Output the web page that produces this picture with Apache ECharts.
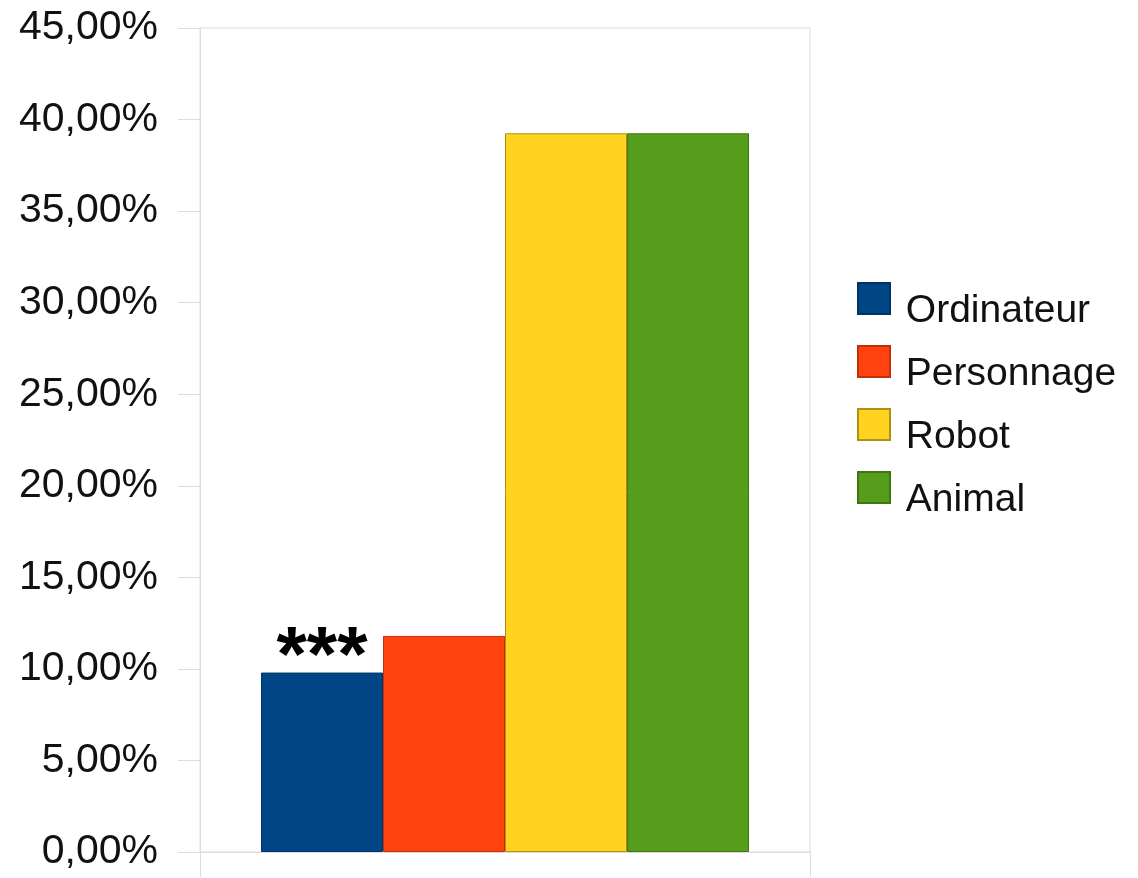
<!DOCTYPE html>
<html><head><meta charset="utf-8">
<script src="https://cdn.jsdelivr.net/npm/echarts@6/dist/echarts.min.js"></script>
<style>html,body{margin:0;padding:0;background:#fff}#c{width:1138px;height:878px}</style>
</head><body><div id="c"></div>
<script>
const categories = [''];
const seriesNames = ['Ordinateur', 'Personnage', 'Robot', 'Animal'];
const seriesValues = [[9.8], [11.8], [39.25], [39.25]];
const seriesColors = ['#004586', '#ff420e', '#ffd320', '#579d1c'];
const borderColors = ['#003366', '#c03008', '#b09010', '#3f7410'];
const annotations = ['***', '', '', ''];
const yTicks = {min: 0, max: 45, interval: 5};

const chart = echarts.init(document.getElementById('c'), null, {renderer: 'canvas'});
const series = seriesNames.map((n, i) => ({
  name: n,
  type: 'bar',
  data: seriesValues[i],
  barGap: '0%',
  barCategoryGap: '20%',
  itemStyle: {color: seriesColors[i], borderColor: borderColors[i], borderWidth: 1},
  label: {
    show: annotations[i] !== '',
    position: 'top',
    formatter: annotations[i],
    color: '#000',
    fontFamily: 'Liberation Sans',
    fontWeight: 'bold',
    fontSize: 78,
    distance: -26
  },
  emphasis: {disabled: true}
}));
chart.setOption({
  animation: false,
  backgroundColor: '#fff',
  grid: {left: 200, right: 328, top: 28, bottom: 26, show: true, borderColor: '#dcdcdc', borderWidth: 1},
  xAxis: {
    type: 'category', data: categories,
    axisLine: {show: true, lineStyle: {color: '#dcdcdc'}},
    axisTick: {show: true, length: 25, lineStyle: {color: '#dcdcdc'}},
    axisLabel: {show: false},
    splitLine: {show: false}
  },
  yAxis: {
    type: 'value', min: yTicks.min, max: yTicks.max, interval: yTicks.interval,
    axisLine: {show: true, lineStyle: {color: '#dcdcdc'}},
    axisTick: {show: true, length: 22, lineStyle: {color: '#dcdcdc'}},
    splitLine: {show: false},
    axisLabel: {
      color: '#111', fontFamily: 'Liberation Sans', fontSize: 41, margin: 42,
      formatter: v => v.toFixed(2).replace('.', ',') + '%'
    }
  },
  legend: {
    orient: 'vertical', left: 857, top: 282, padding: 0,
    itemWidth: 32, itemHeight: 31, itemGap: 14,
    icon: 'rect',
    selectedMode: false,
    formatter: n => '{s| }{a|' + n + '}',
    textStyle: {
      color: '#111', fontFamily: 'Liberation Sans', fontSize: 39,
      rich: {
        s: {fontFamily: 'Liberation Sans', fontSize: 39, lineHeight: 65, verticalAlign: 'bottom'},
        a: {color: '#111', fontFamily: 'Liberation Sans', fontSize: 39, lineHeight: 31, verticalAlign: 'bottom'}
      }
    },
    data: seriesNames
  },
  series: series
});
</script></body></html>
